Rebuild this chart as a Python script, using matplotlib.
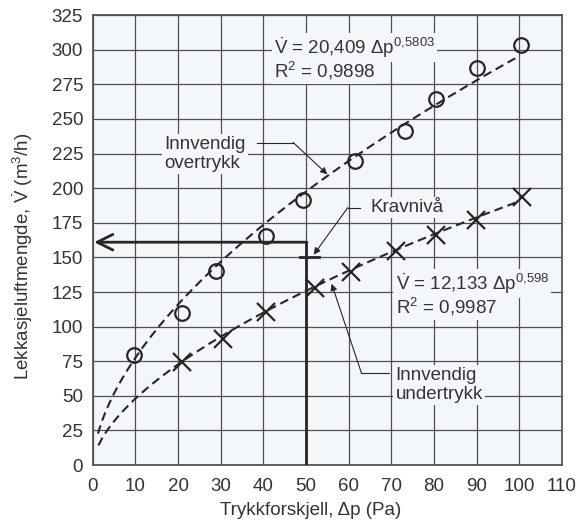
import numpy as np
import matplotlib
matplotlib.use("Agg")
import matplotlib.pyplot as plt

plt.rcParams['font.family'] = ['Liberation Sans', 'DejaVu Sans']
plt.rcParams['mathtext.fontset'] = 'custom'
plt.rcParams['mathtext.rm'] = 'Liberation Sans'
plt.rcParams['mathtext.it'] = 'Liberation Sans:italic'

# Data
dp_over = [9.7, 21.0, 29.0, 40.7, 49.4, 61.5, 73.3, 80.4, 90.0, 100.5]
v_over = [79.5, 110.0, 140.0, 165.6, 191.6, 220.0, 241.0, 264.6, 287.0, 303.5]
dp_under = [21.0, 30.5, 40.7, 52.0, 60.5, 71.2, 80.6, 89.8, 100.7]
v_under = [74.5, 91.0, 110.6, 128.0, 139.6, 154.7, 166.0, 177.0, 193.8]

# Fitted power laws stated on the chart
C_over, n_over = 20.409, 0.5803
C_under, n_under = 12.133, 0.598

krav_dp = 50
krav_v = 161
krav_tick_v = 150

xticks = list(range(0, 111, 10))
yticks = list(range(0, 326, 25))

ink = '#262626'
txt = '#333333'
bg = '#f4f7fa'
FS = 13.5

fig = plt.figure(figsize=(5.84, 5.22), dpi=100)
ax = fig.add_axes([0.159, 0.109, 0.803, 0.862])
ax.set_facecolor(bg)
ax.set_xlim(0, 110)
ax.set_ylim(0, 325)
ax.set_xticks(xticks)
ax.set_yticks(yticks)
ax.tick_params(length=0, labelsize=FS, colors=txt)
ax.tick_params(axis='x', pad=9)
ax.tick_params(axis='y', pad=7)
ax.grid(True, color='#505050', lw=0.9)
ax.set_axisbelow(True)
for s in ax.spines.values():
    s.set_color('#555555')
    s.set_linewidth(1.3)

ax.set_xlabel(r'Trykkforskjell, Δp (Pa)', fontsize=FS, color=txt)
ax.set_ylabel(r'Lekkasjeluftmengde, $\dot{\mathrm{V}}$ (m$^3$/h)', fontsize=FS, color=txt)
ax.xaxis.set_label_coords(0.465, -0.082)
ax.yaxis.set_label_coords(-0.123, 0.464)

# Fit curves
dash = (0, (4.2, 2.4))
x1 = np.linspace(1.2, 100, 300)
ax.plot(x1, C_over * x1 ** n_over, ls=dash, color=ink, lw=1.5, zorder=3)
x2 = np.linspace(1.3, 100, 300)
ax.plot(x2, C_under * x2 ** n_under, ls=dash, color=ink, lw=1.5, zorder=3)

# Measurements
ax.plot(dp_over, v_over, ls='none', marker='o', ms=10.5, mfc='none', mec=ink, mew=1.6, zorder=4)
ax.plot(dp_under, v_under, ls='none', marker='x', ms=13, mec=ink, mew=1.6, zorder=4)

# Kravnivå lines
ax.plot([krav_dp, krav_dp], [0, krav_v], color=ink, lw=2, zorder=3, solid_capstyle='butt')
ax.annotate('', xy=(0.3, krav_v), xytext=(krav_dp + 0.2, krav_v),
            arrowprops=dict(arrowstyle='->', lw=2, color=ink, mutation_scale=28,
                            shrinkA=0, shrinkB=0), zorder=3)
ax.plot([krav_dp - 1.5, krav_dp + 3], [krav_tick_v, krav_tick_v], color=ink, lw=2, zorder=3)

box = dict(fc=bg, ec='none', pad=1.5)
thin = 0.8

# Equations
ax.text(42.5, 301.5, r'$\dot{\mathrm{V}}$ = 20,409 Δp$^{0{,}5803}$', fontsize=FS, color=txt,
        va='center', ha='left', bbox=box, zorder=5)
ax.text(42.5, 285, r'R$^2$ = 0,9898', fontsize=FS, color=txt, va='center', ha='left', bbox=box, zorder=5)
ax.text(71, 131, r'$\dot{\mathrm{V}}$ = 12,133 Δp$^{0{,}598}$', fontsize=FS, color=txt,
        va='center', ha='left', bbox=box, zorder=5)
ax.text(71, 114, r'R$^2$ = 0,9987', fontsize=FS, color=txt, va='center', ha='left', bbox=box, zorder=5)

# Innvendig overtrykk
ax.text(16.8, 224.5, 'Innvendig\novertrykk', fontsize=FS, color=txt, va='center', ha='left',
        linespacing=1.15, bbox=box, zorder=5)
ax.plot([38.5, 47.0], [233, 233], color=ink, lw=thin, zorder=5)
ax.annotate('', xy=(55, 210), xytext=(47.0, 233),
            arrowprops=dict(arrowstyle='-|>', lw=thin, color=ink, mutation_scale=10,
                            shrinkA=0, shrinkB=0), zorder=5)

# Kravnivå
ax.text(65.2, 186, 'Kravnivå', fontsize=FS, color=txt, va='center', ha='left', bbox=box, zorder=5)
ax.plot([59.8, 62.6], [186, 186], color=ink, lw=thin, zorder=5)
ax.annotate('', xy=(51.8, 152), xytext=(59.8, 186),
            arrowprops=dict(arrowstyle='-|>', lw=thin, color=ink, mutation_scale=10,
                            shrinkA=0, shrinkB=0), zorder=5)

# Innvendig undertrykk
ax.text(71, 58, 'Innvendig\nundertrykk', fontsize=FS, color=txt, va='center', ha='left',
        linespacing=1.15, bbox=box, zorder=5)
ax.plot([63, 69.5], [66.5, 66.5], color=ink, lw=thin, zorder=5)
ax.annotate('', xy=(56, 131), xytext=(63, 66.5),
            arrowprops=dict(arrowstyle='-|>', lw=thin, color=ink, mutation_scale=10,
                            shrinkA=0, shrinkB=0), zorder=5)

fig.savefig('out.png', dpi=100)
